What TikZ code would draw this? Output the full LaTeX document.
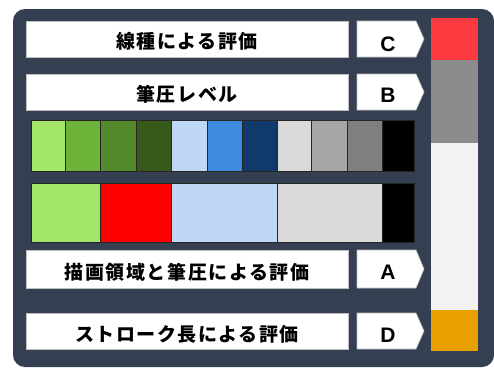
\documentclass[tikz,border=0pt]{standalone}
\usepackage{fontspec}
\newfontfamily\jp{Noto Sans CJK JP}
\newfontfamily\lat{Liberation Sans}
\definecolor{panel}{HTML}{353F52}
\definecolor{g1}{HTML}{A4E66A}
\definecolor{g2}{HTML}{6DB33A}
\definecolor{g3}{HTML}{538A2C}
\definecolor{g4}{HTML}{375A1A}
\definecolor{b1}{HTML}{BFD8F7}
\definecolor{b2}{HTML}{3D8CE0}
\definecolor{b3}{HTML}{0F3A6B}
\definecolor{k1}{HTML}{D9D9D9}
\definecolor{k2}{HTML}{A6A6A6}
\definecolor{k3}{HTML}{7F7F7F}
\definecolor{barred}{HTML}{FC3A3F}
\definecolor{bargray}{HTML}{8C8C8C}
\definecolor{barlight}{HTML}{F2F2F2}
\definecolor{barorange}{HTML}{E8A000}
\begin{document}
\begin{tikzpicture}[x=1pt,y=-1pt,
  lblbox/.style={draw=black!25, line width=0.6pt, fill=white, anchor=north west, inner sep=0pt, minimum width=322pt, minimum height=36pt},
  lbltxt/.style={anchor=base, inner sep=0pt, font=\jp\bfseries\fontsize{19}{19}\selectfont\addfontfeature{LetterSpace=8}},
  tagbox/.style={draw=black!25, line width=0.6pt, fill=white},
  tagtxt/.style={anchor=base, inner sep=0pt, font=\lat\bfseries\fontsize{21}{21}\selectfont},
  cell/.style={draw=black!85, line width=0.8pt, anchor=north west, inner sep=0pt, minimum height=51pt},
  wcell/.style={draw=black!85, line width=0.8pt, anchor=north west, inner sep=0pt, minimum height=59pt}]
\useasboundingbox (0,0) rectangle (494,367);
\fill[white] (0,0) rectangle (494,367);
\fill[panel, rounded corners=12pt] (13,9) rectangle (494,367);

% label rows
\node[lblbox] (rC) at (26,21) {};
\node[lbltxt] (tC) at (187,48.5) {線種による評価};
\node[lblbox] (rB) at (26,74) {};
\node[lbltxt] (tB) at (187,101.5) {筆圧レベル};
\node[lblbox, minimum height=38pt] (rA) at (26,250) {};
\node[lbltxt] (tA) at (187,279) {描画領域と筆圧による評価};
\node[lblbox] (rD) at (26,313) {};
\node[lbltxt] (tD) at (187,341) {ストローク長による評価};

% tags
\draw[tagbox] (357,21) -- (416,21) -- (424,39) -- (416,57) -- (357,57) -- cycle;
\node[tagtxt] (lC) at (388,51) {C};
\draw[tagbox] (357,74) -- (416,74) -- (424,92) -- (416,110) -- (357,110) -- cycle;
\node[tagtxt] (lB) at (388,102.5) {B};
\draw[tagbox] (357,250) -- (416,250) -- (424,269) -- (416,288) -- (357,288) -- cycle;
\node[tagtxt] (lA) at (388,279.5) {A};
\draw[tagbox] (357,313) -- (416,313) -- (424,331) -- (416,349) -- (357,349) -- cycle;
\node[tagtxt] (lD) at (388,342) {D};

% colour squares row
\node[cell, fill=g1, minimum width=34pt] (s1) at (31,120) {};
\node[cell, fill=g2, minimum width=35pt] (s2) at (65,120) {};
\node[cell, fill=g3, minimum width=36pt] (s3) at (100,120) {};
\node[cell, fill=g4, minimum width=35pt] (s4) at (136,120) {};
\node[cell, fill=b1, minimum width=36pt] (s5) at (171,120) {};
\node[cell, fill=b2, minimum width=35pt] (s6) at (207,120) {};
\node[cell, fill=b3, minimum width=35pt] (s7) at (242,120) {};
\node[cell, fill=k1, minimum width=34pt] (s8) at (277,120) {};
\node[cell, fill=k2, minimum width=36pt] (s9) at (311,120) {};
\node[cell, fill=k3, minimum width=35pt] (s10) at (347,120) {};
\node[cell, fill=black, minimum width=32pt] (s11) at (382,120) {};

% wide cells row
\node[wcell, fill=g1, minimum width=69pt] (w1) at (31,183) {};
\node[wcell, fill=red, minimum width=71pt] (w2) at (100,183) {};
\node[wcell, fill=b1, minimum width=106pt] (w3) at (171,183) {};
\node[wcell, fill=k1, minimum width=105pt] (w4) at (277,183) {};
\node[wcell, fill=black, minimum width=32pt] (w5) at (382,183) {};

% right bar
\fill[barred] (431,18) rectangle (478,60);
\fill[bargray] (431,60) rectangle (478,143);
\fill[barlight] (431,143) rectangle (478,310);
\fill[barorange] (431,310) rectangle (478,351);
\end{tikzpicture}
\end{document}
